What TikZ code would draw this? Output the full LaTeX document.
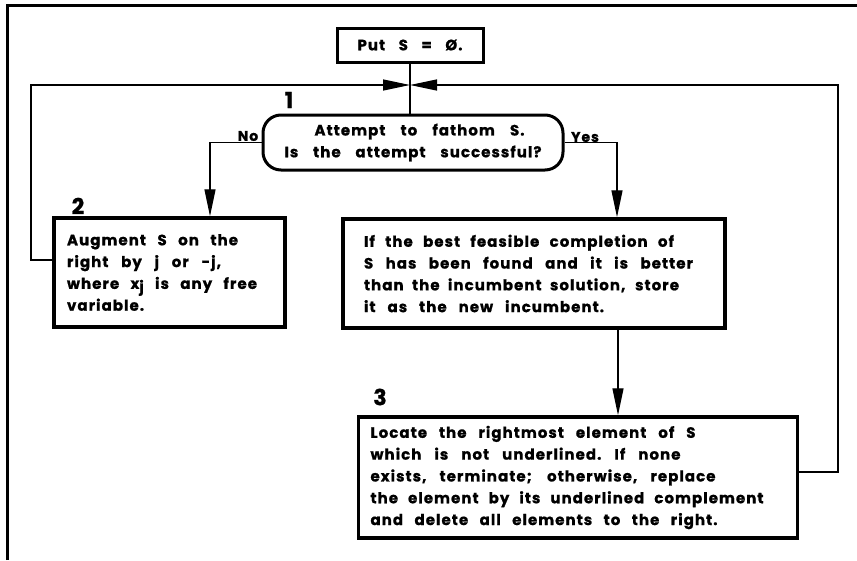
\documentclass[tikz,border=0pt]{standalone}
\usepackage{fontspec}
\setmainfont{Poppins}[LetterSpace=7,BoldFeatures={FakeBold=1}]
\usetikzlibrary{arrows.meta}
% a text line set to a given width, its word spaces stretched
\newcommand{\fitline}[2]{\leavevmode\hbox to #1pt{\spaceskip=3pt plus 1fil\xspaceskip=3pt plus 1fil\relax #2}}
\tikzset{
  conn/.style={line width=1.3pt},
  arr/.style={conn,-{Triangle[length=27pt,width=11pt]}},
  txt/.style={font=\fontsize{15}{21.8}\selectfont\bfseries},
  box/.style={draw, line width=3.5pt, inner ysep=0pt, align=left, txt},
  lbl/.style={font=\fontsize{14}{14}\selectfont\bfseries, inner sep=0pt},
  num/.style={font=\fontsize{22}{22}\selectfont\bfseries, inner sep=0pt},
}
\begin{document}
\begin{tikzpicture}[x=1pt,y=-1pt]
\useasboundingbox (0,0) rectangle (857,560);
% partial outer frame
\draw[line width=3pt] (7,560) -- (7,5) -- (857,5);

\node[box, line width=3pt, minimum width=146pt, minimum height=34pt, inner xsep=0pt,
  align=center, font=\fontsize{15}{15}\selectfont\bfseries] (put) at (410,45) {\fitline{105}{Put S = Ø.}};

\node[draw, line width=3pt, rounded corners=18pt, minimum width=300pt, minimum height=55pt,
  align=center, inner sep=0pt, txt] (dec) at (413,142.5)
  {\fitline{210}{Attempt to fathom S.}\hspace*{-13pt}\\\fitline{257}{Is the attempt successful?}};
\node[num] (n1) at (289,100) {1};

\node[box, minimum width=221pt, minimum height=109pt, text width=205pt, inner xsep=13pt] (b2)
  at (169.5,272.5) {\fitline{171}{Augment S on the}\\\fitline{154}{right by j or -j,}\\
  \fitline{190}{where x\raisebox{-3pt}{j} is any free}\\variable.};
\node[num] (n2) at (78,206) {2};

\node[box, minimum width=364pt, minimum height=109pt, text width=340pt, inner xsep=21pt] (bB)
  at (534,273.5) {\fitline{310}{If the best feasible completion of}\\\fitline{329}{S has been found and it is better}\\
  \fitline{315}{than the incumbent solution, store}\\\fitline{240}{it as the new incumbent.}};

\node[box, minimum width=430pt, minimum height=121pt, text width=415pt, inner xsep=12pt] (b3)
  at (578,477.5) {\fitline{325}{Locate the rightmost element of S}\\\fitline{310}{which is not underlined. If none}\\
  \fitline{345}{exists, terminate; otherwise, replace}\\\fitline{393}{the element by its underlined complement}\\
  \fitline{347}{and delete all elements to the right.}};
\node[num] (n3) at (380,397) {3};

\coordinate (j) at (410,85);
\draw[conn] (put.south) -- (put.south |- dec.north);
\draw[arr] (b2.west |- 0,260) -- (31,260) -- (31,85) -- (j);
\draw[arr] (b3.east |- 0,472) -- (838,472) -- (838,85) -- (j);

\draw[arr] (dec.west) -| ([xshift=40.5pt]b2.north);
\node[lbl] (no) at (248,136) {No};
\draw[arr] (dec.east) -| ([xshift=83pt]bB.north);
\node[lbl] (yes) at (585,137) {Yes};
\draw[arr] ([xshift=84pt]bB.south) -- ([xshift=84pt]bB.south |- b3.north);
\end{tikzpicture}
\end{document}
